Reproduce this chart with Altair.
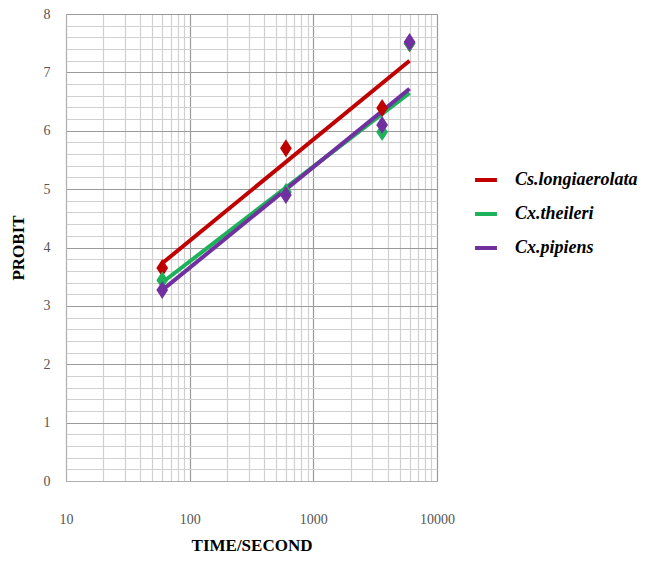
import altair as alt
import pandas as pd

# --- data ---
species = ["Cs.longiaerolata", "Cx.theileri", "Cx.pipiens"]
colors = ["#c00000", "#1db15a", "#7030a0"]
times = [60, 600, 3600, 6000]
probit_cs = [3.65, 5.70, 6.39, 7.50]
probit_ct = [3.44, 4.95, 5.98, 7.50]
probit_cp = [3.27, 4.90, 6.10, 7.52]
fit_times = [60, 6000]
fit_cs = [3.73, 7.20]
fit_ct = [3.40, 6.65]
fit_cp = [3.27, 6.72]

x_major = [10, 100, 1000, 10000]
x_grid = [m * d for d in [10, 100, 1000] for m in range(1, 10)] + [10000]
y_grid = [round(i * 0.2, 1) for i in range(41)]

pts = pd.DataFrame({
    "t": times * 3,
    "p": probit_cs + probit_ct + probit_cp,
    "s": [species[0]] * 4 + [species[1]] * 4 + [species[2]] * 4,
    "o": [0] * 4 + [1] * 4 + [2] * 4,
})
fits = pd.DataFrame({
    "t": fit_times * 3,
    "p": fit_cs + fit_ct + fit_cp,
    "s": [species[0]] * 2 + [species[1]] * 2 + [species[2]] * 2,
})

serif = "Liberation Serif"
color_scale = alt.Scale(domain=species, range=colors)
major_test = "indexof([10,100,1000,10000], datum.value) >= 0"

x_enc = alt.X("t:Q", scale=alt.Scale(type="log", domain=[10, 10000], nice=False),
              axis=alt.Axis(values=x_grid, tickCount=len(x_grid), title="TIME/SECOND",
                            labelExpr=major_test + " ? format(datum.value,'d') : ''",
                            gridColor={"condition": {"test": major_test, "value": "#9a9a9a"}, "value": "#d0d0d0"},
                            gridWidth=1.2, ticks=False, domainColor="#b0b0b0",
                            labelFont=serif, labelFontSize=14, labelColor="#555555",
                            labelPadding=31, labelFlush=False, labelOverlap=False,
                            titleFont=serif, titleFontSize=17, titleFontWeight="bold",
                            titleColor="#000000", titlePadding=11))
y_enc = alt.Y("p:Q", scale=alt.Scale(domain=[0, 8], nice=False),
              axis=alt.Axis(values=y_grid, tickCount=len(y_grid), title="PROBIT",
                            labelExpr="datum.value % 1 == 0 ? format(datum.value,'d') : ''",
                            gridColor={"condition": {"test": "datum.value % 1 == 0", "value": "#9a9a9a"}, "value": "#d0d0d0"},
                            gridWidth=1.2, ticks=False, domainColor="#b0b0b0",
                            labelFont=serif, labelFontSize=14, labelColor="#555555",
                            labelPadding=16, labelOverlap=False, labelFlush=False,
                            titleFont=serif, titleFontSize=17, titleFontWeight="bold",
                            titleColor="#000000", titlePadding=16))

lines = alt.Chart(fits).mark_line(strokeWidth=4).encode(
    x=x_enc, y=y_enc,
    color=alt.Color("s:N", scale=color_scale, sort=species,
                    legend=alt.Legend(title=None, orient="none", legendX=407, legendY=153,
                                      symbolType="stroke", symbolStrokeWidth=4, symbolSize=480,
                                      labelFont=serif, labelFontSize=18, labelFontStyle="italic",
                                      labelFontWeight="bold", labelColor="#000000",
                                      rowPadding=12, labelOffset=16, labelLimit=300)),
    detail="s:N",
)

points = alt.Chart(pts).mark_point(filled=True, opacity=1,
                                   shape="M0,-1.3L0.85,0L0,1.3L-0.85,0Z", size=190).encode(
    x="t:Q", y="p:Q",
    color=alt.Color("s:N", scale=color_scale, legend=None),
    order="o:Q",
)

chart = alt.layer(lines, points).properties(
    width=371, height=467,
    autosize=alt.AutoSizeParams(type="none"),
    padding={"left": 58, "top": 6, "right": 204, "bottom": 74},
).configure_view(stroke=None).configure(background="white")

chart.save("out.html", embed_options={"renderer": "svg", "actions": False})
